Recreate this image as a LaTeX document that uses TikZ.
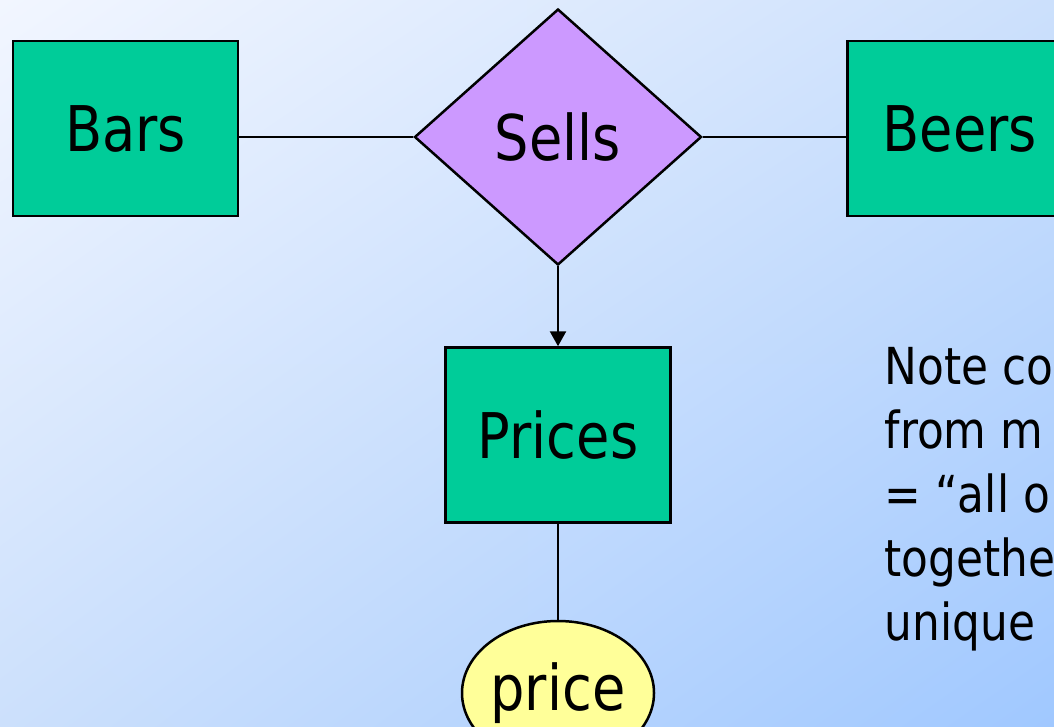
\documentclass[tikz,border=0pt]{standalone}
\usepackage{fontspec}
\setmainfont{DejaVu Sans}[FakeStretch=0.86]
\usetikzlibrary{shapes.geometric, positioning, arrows.meta, shadings}

\definecolor{entgreen}{RGB}{0,204,153}
\definecolor{relpurple}{RGB}{204,153,255}
\definecolor{attyellow}{RGB}{255,255,153}
\definecolor{bgtopleft}{RGB}{242,246,255}
\definecolor{bgmiddle}{RGB}{204,224,252}
\definecolor{bgbotright}{RGB}{160,200,255}

\begin{document}
\begin{tikzpicture}[x=1pt, y=-1pt, line width=2.5pt,
  every node/.style = {align=center, font=\fontsize{63}{76}\selectfont},
  entity/.style = {draw, fill=entgreen, minimum width=225pt, minimum height=175pt},
  relship/.style = {draw, diamond, fill=relpurple, inner sep=0pt,
                    minimum width=287pt, minimum height=256pt},
  attrib/.style = {draw, ellipse, fill=attyellow, inner sep=0pt,
                   minimum width=192pt, minimum height=144pt}]
 \useasboundingbox (0,0) rectangle (1054,727);
 \shade[upper left=bgtopleft, upper right=bgmiddle, lower left=bgmiddle,
        lower right=bgbotright] (0,0) rectangle (1054,727);

 \node [entity] (bars) at (125.5,128.5) {Bars};
 \node [relship] (sells) at (558,137) {Sells};
 \node [entity, anchor=west] (beers) at (846,128.5) {Beers};
 \node [entity, below = 80pt of sells] (prices) {Prices};
 \node [attrib, below = 96pt of prices] (price) {price};

 % base of the last line
 \node [anchor=base west, align=left, font=\fontsize{51}{64}\selectfont]
   (note) at (880,640) {Note co\\from m\\= “all o\\togethe\\unique};

 \draw (sells.west -| bars.east) -- (sells.west);
 \draw (sells.east) -- (sells.east -| beers.west);
 \draw [-{Triangle[width=16pt, length=15pt]}] (sells) -- (prices);
 \draw (prices) -- (price);
\end{tikzpicture}
\end{document}
